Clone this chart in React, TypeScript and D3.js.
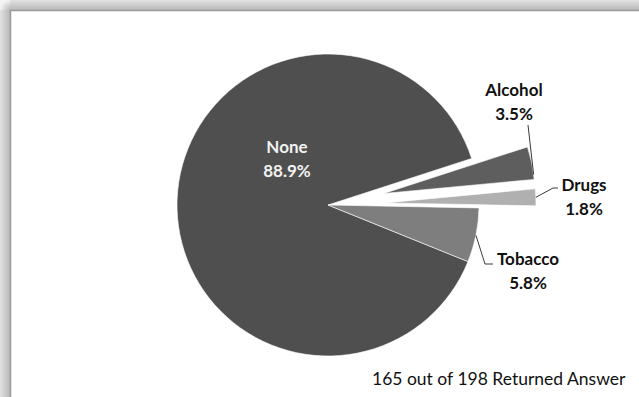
import React from "react";
import * as d3 from "d3";

const categories = ["None", "Alcohol", "Drugs", "Tobacco"];
const values = [88.9, 3.5, 1.8, 5.8];
const valueLabels = ["88.9%", "3.5%", "1.8%", "5.8%"];
const footnote = "165 out of 198 Returned Answer";

const W = 639;
const H = 397;
const cx = 328;
const cy = 205;
const R = 151;
const colors: Record<string, string> = {
  None: "#4f4f4f",
  Alcohol: "#5e5e5e",
  Drugs: "#b0b0b0",
  Tobacco: "#7e7e7e",
};
const explode: Record<string, number> = { None: 0, Alcohol: 57, Drugs: 57, Tobacco: 0 };
// label placement: [x center, first baseline]
const labelPos: Record<string, [number, number]> = {
  None: [287, 153],
  Alcohol: [514, 96],
  Drugs: [584, 191],
  Tobacco: [528, 265],
};
const FONT = "Lato, 'Open Sans', sans-serif";

export default function App() {
  const deg = Math.PI / 180;
  const pie = d3
    .pie<number>()
    .sort(null)
    .value((d) => d)
    .startAngle(112 * deg)
    .endAngle(472 * deg);
  const arcs = pie(values);
  const arcGen = d3.arc<d3.PieArcDatum<number>>().innerRadius(0).outerRadius(R);

  const offsetOf = (i: number) => {
    const a = arcs[i];
    const mid = (a.startAngle + a.endAngle) / 2;
    const d = explode[categories[i]];
    return [d * Math.sin(mid), -d * Math.cos(mid)];
  };
  const arcPoint = (i: number, ang: number) => {
    const [ox, oy] = offsetOf(i);
    return [cx + ox + R * Math.sin(ang), cy + oy - R * Math.cos(ang)];
  };

  const leaders: string[] = [];
  {
    const i = 1;
    const a = arcs[i];
    const p = arcPoint(i, a.startAngle + (a.endAngle - a.startAngle) * 0.85);
    leaders.push(`M${labelPos.Alcohol[0] + 14},${labelPos.Alcohol[1] + 29}L${p[0]},${p[1]}`);
  }
  {
    const i = 2;
    const a = arcs[i];
    const p = arcPoint(i, (a.startAngle + a.endAngle) / 2);
    const y = labelPos.Drugs[1] - 3;
    leaders.push(`M${labelPos.Drugs[0] - 26},${y}L${labelPos.Drugs[0] - 31},${y}L${p[0]},${p[1]}`);
  }
  {
    const i = 3;
    const a = arcs[i];
    const p = arcPoint(i, (a.startAngle + a.endAngle) / 2);
    const y = labelPos.Tobacco[1] - 1;
    leaders.push(`M${labelPos.Tobacco[0] - 35},${y}L${labelPos.Tobacco[0] - 43},${y}L${p[0]},${p[1]}`);
  }

  return (
    <svg
      width={W}
      height={H}
      style={{ position: "absolute", left: 0, top: 0, display: "block" }}
      xmlns="http://www.w3.org/2000/svg"
    >
      <defs>
        <linearGradient id="topShade" x1="0" y1="0" x2="0" y2="1">
          <stop offset="0" stopColor="#e2e2e2" />
          <stop offset="1" stopColor="#b8b8b8" />
        </linearGradient>
        <linearGradient id="leftShade" x1="0" y1="0" x2="1" y2="0">
          <stop offset="0" stopColor="#e2e2e2" />
          <stop offset="1" stopColor="#b8b8b8" />
        </linearGradient>
        <radialGradient id="cornerShade" cx="1" cy="1" r="1">
          <stop offset="0" stopColor="#b8b8b8" />
          <stop offset="1" stopColor="#f4f4f4" />
        </radialGradient>
      </defs>
      <rect x={0} y={0} width={W} height={H} fill="#ffffff" />
      <rect x={10} y={0} width={W - 10} height={10} fill="url(#topShade)" />
      <rect x={0} y={10} width={10} height={H - 10} fill="url(#leftShade)" />
      <rect x={0} y={0} width={10} height={10} fill="url(#cornerShade)" />
      <path d={`M10.5,${H}V10.5H${W}`} fill="none" stroke="#9a9a9a" strokeWidth={1.5} />

      <g>
        {arcs.map((a, i) => {
          const [ox, oy] = offsetOf(i);
          return (
            <path
              key={categories[i]}
              d={arcGen(a) || ""}
              transform={`translate(${cx + ox},${cy + oy})`}
              fill={colors[categories[i]]}
              stroke="#ffffff"
              strokeWidth={0.6}
            />
          );
        })}
      </g>

      {leaders.map((d, i) => (
        <path key={i} d={d} fill="none" stroke="#3a3a3a" strokeWidth={1} />
      ))}

      {categories.map((c, i) => {
        const [x, y] = labelPos[c];
        const fill = c === "None" ? "#f2f2f2" : "#111111";
        return (
          <text
            key={c}
            x={x}
            y={y}
            textAnchor="middle"
            fontFamily={FONT}
            fontWeight={700}
            fontSize={17}
            fill={fill}
          >
            <tspan x={x} y={y}>{c}</tspan>
            <tspan x={x} y={y + 24}>{valueLabels[i]}</tspan>
          </text>
        );
      })}

      <text x={372} y={385} fontFamily={FONT} fontSize={17.5} fill="#111111">
        {footnote}
      </text>
    </svg>
  );
}
